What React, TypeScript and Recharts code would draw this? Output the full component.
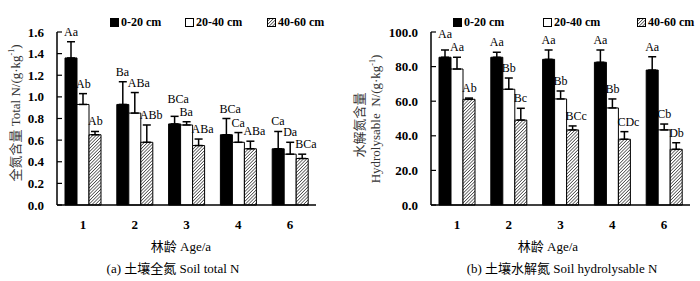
import { BarChart, Bar, XAxis, YAxis, ErrorBar, LabelList } from 'recharts';

// 林龄 (a)
const ages = ['1', '2', '3', '4', '6'];

// (a) 土壤全氮 Total N, g/kg
const tnTop = [1.36, 0.93, 0.75, 0.65, 0.52];
const tnTopErr = [0.15, 0.21, 0.07, 0.15, 0.16];
const tnMid = [0.93, 0.85, 0.74, 0.58, 0.47];
const tnMidErr = [0.1, 0.19, 0.03, 0.09, 0.11];
const tnLow = [0.65, 0.58, 0.55, 0.52, 0.43];
const tnLowErr = [0.03, 0.16, 0.06, 0.07, 0.04];
const tnTopSig = ['Aa', 'Ba', 'BCa', 'BCa', 'Ca'];
const tnMidSig = ['Ab', 'ABa', 'Ba', 'Ca', 'Da'];
const tnLowSig = ['Ab', 'ABb', 'ABa', 'ABa', 'BCa'];
const tnTicks = [0, 0.2, 0.4, 0.6, 0.8, 1.0, 1.2, 1.4, 1.6];

// (b) 土壤水解氮 Hydrolysable N, mg/kg
const hnTop = [85.4, 85.4, 84.2, 82.5, 78.0];
const hnTopErr = [4.2, 2.9, 5.4, 7.1, 7.7];
const hnMid = [78.6, 66.9, 61.3, 56.1, 43.4];
const hnMidErr = [6.8, 6.5, 4.6, 5.2, 3.4];
const hnLow = [61.1, 49.1, 43.4, 38.0, 32.2];
const hnLowErr = [0.7, 6.8, 2.3, 4.4, 3.8];
const hnTopSig = ['Aa', 'Aa', 'Aa', 'Aa', 'Aa'];
const hnMidSig = ['Aa', 'Bb', 'Bb', 'Bb', 'Cb'];
const hnLowSig = ['Ab', 'Bc', 'BCc', 'CDc', 'Db'];
const hnTicks = [0, 20, 40, 60, 80, 100];

const layers = ['0-20 cm', '20-40 cm', '40-60 cm'];

// extra lift (px) for letters that would collide with a neighbour
const tnTopLift = [0, 0, 7, 0, 0];
const hnTopLift = [6, 0, 0, 0, 0];
const noLift = [0, 0, 0, 0, 0];

const FONT = "'Liberation Serif', 'Times New Roman', 'Noto Sans CJK SC', serif";

function buildRows(top: number[], topErr: number[], mid: number[], midErr: number[], low: number[], lowErr: number[], topSig: string[], midSig: string[], lowSig: string[]) {
  return ages.map((age, i) => ({
    age,
    top: top[i],
    topErr: [0, topErr[i]],
    topSig: topSig[i],
    mid: mid[i],
    midErr: [0, midErr[i]],
    midSig: midSig[i],
    low: low[i],
    lowErr: [0, lowErr[i]],
    lowSig: lowSig[i],
  }));
}

const tnRows = buildRows(tnTop, tnTopErr, tnMid, tnMidErr, tnLow, tnLowErr, tnTopSig, tnMidSig, tnLowSig);
const hnRows = buildRows(hnTop, hnTopErr, hnMid, hnMidErr, hnLow, hnLowErr, hnTopSig, hnMidSig, hnLowSig);

// letter sits just above the error cap, left-aligned on the bar
function sigLabel(vals: number[], errs: number[], lift: number[]) {
  return (p: any) => {
    const { x, y, height, value, index } = p;
    const k = Number(height) / vals[index];
    const capY = Number(y) - errs[index] * k;
    return (
      <text x={Number(x) - 1} y={capY - 6 - lift[index]} fontSize={12} fontFamily={FONT} fill='#000'>
        {value}
      </text>
    );
  };
}

function Hatch({ id }: { id: string }) {
  return (
    <defs>
      <pattern id={id} patternUnits='userSpaceOnUse' width={2.3} height={2.3} patternTransform='rotate(45)'>
        <rect width={2.3} height={2.3} fill='#fff' />
        <line x1={0} y1={0} x2={0} y2={2.3} stroke='#000' strokeWidth={1.1} />
      </pattern>
    </defs>
  );
}

interface PanelProps {
  rows: any[];
  ticks: number[];
  max: number;
  yWidth: number;
  right: number;
  hatchId: string;
  vals: number[][];
  errs: number[][];
  lifts: number[][];
}

function Panel({ rows, ticks, max, yWidth, right, hatchId, vals, errs, lifts }: PanelProps) {
  const tickStyle = { fontSize: 13, fontFamily: FONT, fill: '#000', fontWeight: 'bold' as const };
  return (
    <BarChart
      width={350}
      height={281}
      data={rows}
      margin={{ top: 32, right, bottom: 46, left: 0 }}
      barGap={0}
      barSize={12}
    >
      <Hatch id={hatchId} />
      <XAxis
        dataKey='age'
        tickLine={false}
        tickSize={0}
        tickMargin={15}
        height={30}
        axisLine={{ stroke: '#000', strokeWidth: 1.5 }}
        tick={tickStyle}
      />
      <YAxis
        width={yWidth}
        domain={[0, max]}
        ticks={ticks}
        interval={0}
        tickFormatter={(v: number) => v.toFixed(1)}
        tickSize={-5}
        tickMargin={18}
        axisLine={{ stroke: '#000', strokeWidth: 1.5 }}
        tickLine={{ stroke: '#000', strokeWidth: 1.2 }}
        tick={tickStyle}
      />
      <Bar dataKey='top' fill='#000' stroke='#000' strokeWidth={1} isAnimationActive={false}>
        <ErrorBar dataKey='topErr' direction='y' width={4} stroke='#000' strokeWidth={1.5} />
        <LabelList dataKey='topSig' content={sigLabel(vals[0], errs[0], lifts[0])} />
      </Bar>
      <Bar dataKey='mid' fill='#fff' stroke='#000' strokeWidth={1} isAnimationActive={false}>
        <ErrorBar dataKey='midErr' direction='y' width={4} stroke='#000' strokeWidth={1.5} />
        <LabelList dataKey='midSig' content={sigLabel(vals[1], errs[1], lifts[1])} />
      </Bar>
      <Bar dataKey='low' fill={`url(#${hatchId})`} stroke='#000' strokeWidth={1} isAnimationActive={false}>
        <ErrorBar dataKey='lowErr' direction='y' width={4} stroke='#000' strokeWidth={1.5} />
        <LabelList dataKey='lowSig' content={sigLabel(vals[2], errs[2], lifts[2])} />
      </Bar>
    </BarChart>
  );
}

function Legend({ xs, hatchId }: { xs: number[]; hatchId: string }) {
  return (
    <>
      {layers.map((name, i) => (
        <div
          key={name}
          style={{ position: 'absolute', left: xs[i], top: 15, display: 'flex', alignItems: 'center', fontSize: 12, fontWeight: 'bold', fontFamily: FONT, whiteSpace: 'nowrap' }}
        >
          <svg width={9} height={9} style={{ marginRight: 2 }}>
            {i === 2 && <Hatch id={hatchId} />}
            <rect
              x={0.5}
              y={0.5}
              width={8}
              height={8}
              fill={i === 0 ? '#000' : i === 1 ? '#fff' : `url(#${hatchId})`}
              stroke='#000'
              strokeWidth={1}
            />
          </svg>
          {name}
        </div>
      ))}
    </>
  );
}

const textBase = { position: 'absolute' as const, fontFamily: FONT, fontSize: 13, whiteSpace: 'nowrap' as const, color: '#000' };

function Centered({ x, y, children, rotate, color }: { x: number; y: number; children: any; rotate?: boolean; color?: string }) {
  return (
    <div
      style={{
        ...textBase,
        left: x,
        top: y,
        color: color || '#000',
        transform: `translate(-50%, -50%)${rotate ? ' rotate(-90deg)' : ''}`,
      }}
    >
      {children}
    </div>
  );
}

const sup = { fontSize: 8, verticalAlign: 'super' as const, lineHeight: 0 };

export default function App() {
  return (
    <div style={{ position: 'absolute', left: 0, top: 0, width: 700, height: 281, background: '#fff' }}>
      <div style={{ position: 'absolute', left: 0, top: 0 }}>
        <Panel
          rows={tnRows}
          ticks={tnTicks}
          max={1.6}
          yWidth={57}
          right={34}
          hatchId='hatchA'
          vals={[tnTop, tnMid, tnLow]}
          errs={[tnTopErr, tnMidErr, tnLowErr]}
          lifts={[tnTopLift, noLift, noLift]}
        />
      </div>
      <div style={{ position: 'absolute', left: 350, top: 0 }}>
        <Panel
          rows={hnRows}
          ticks={hnTicks}
          max={100}
          yWidth={81}
          right={10}
          hatchId='hatchB'
          vals={[hnTop, hnMid, hnLow]}
          errs={[hnTopErr, hnMidErr, hnLowErr]}
          lifts={[hnTopLift, noLift, noLift]}
        />
      </div>

      <Legend xs={[110, 185, 267]} hatchId='hatchLa' />
      <Legend xs={[453, 543, 637]} hatchId='hatchLb' />

      <Centered x={14} y={113} rotate color='#333'>
        全氮含量 Total N/(g·kg<span style={sup}>-1</span>)
      </Centered>
      <Centered x={358} y={125} rotate color='#333'>
        水解氮含量
      </Centered>
      <Centered x={376} y={119} rotate color='#333'>
        Hydrolysable&nbsp; N/(g·kg<span style={sup}>-1</span>)
      </Centered>

      <Centered x={181} y={245}>林龄 Age/a</Centered>
      <Centered x={173} y={267}>(a) 土壤全氮 Soil total N</Centered>
      <Centered x={548} y={245}>林龄 Age/a</Centered>
      <Centered x={562} y={267}>(b) 土壤水解氮 Soil hydrolysable N</Centered>
    </div>
  );
}
